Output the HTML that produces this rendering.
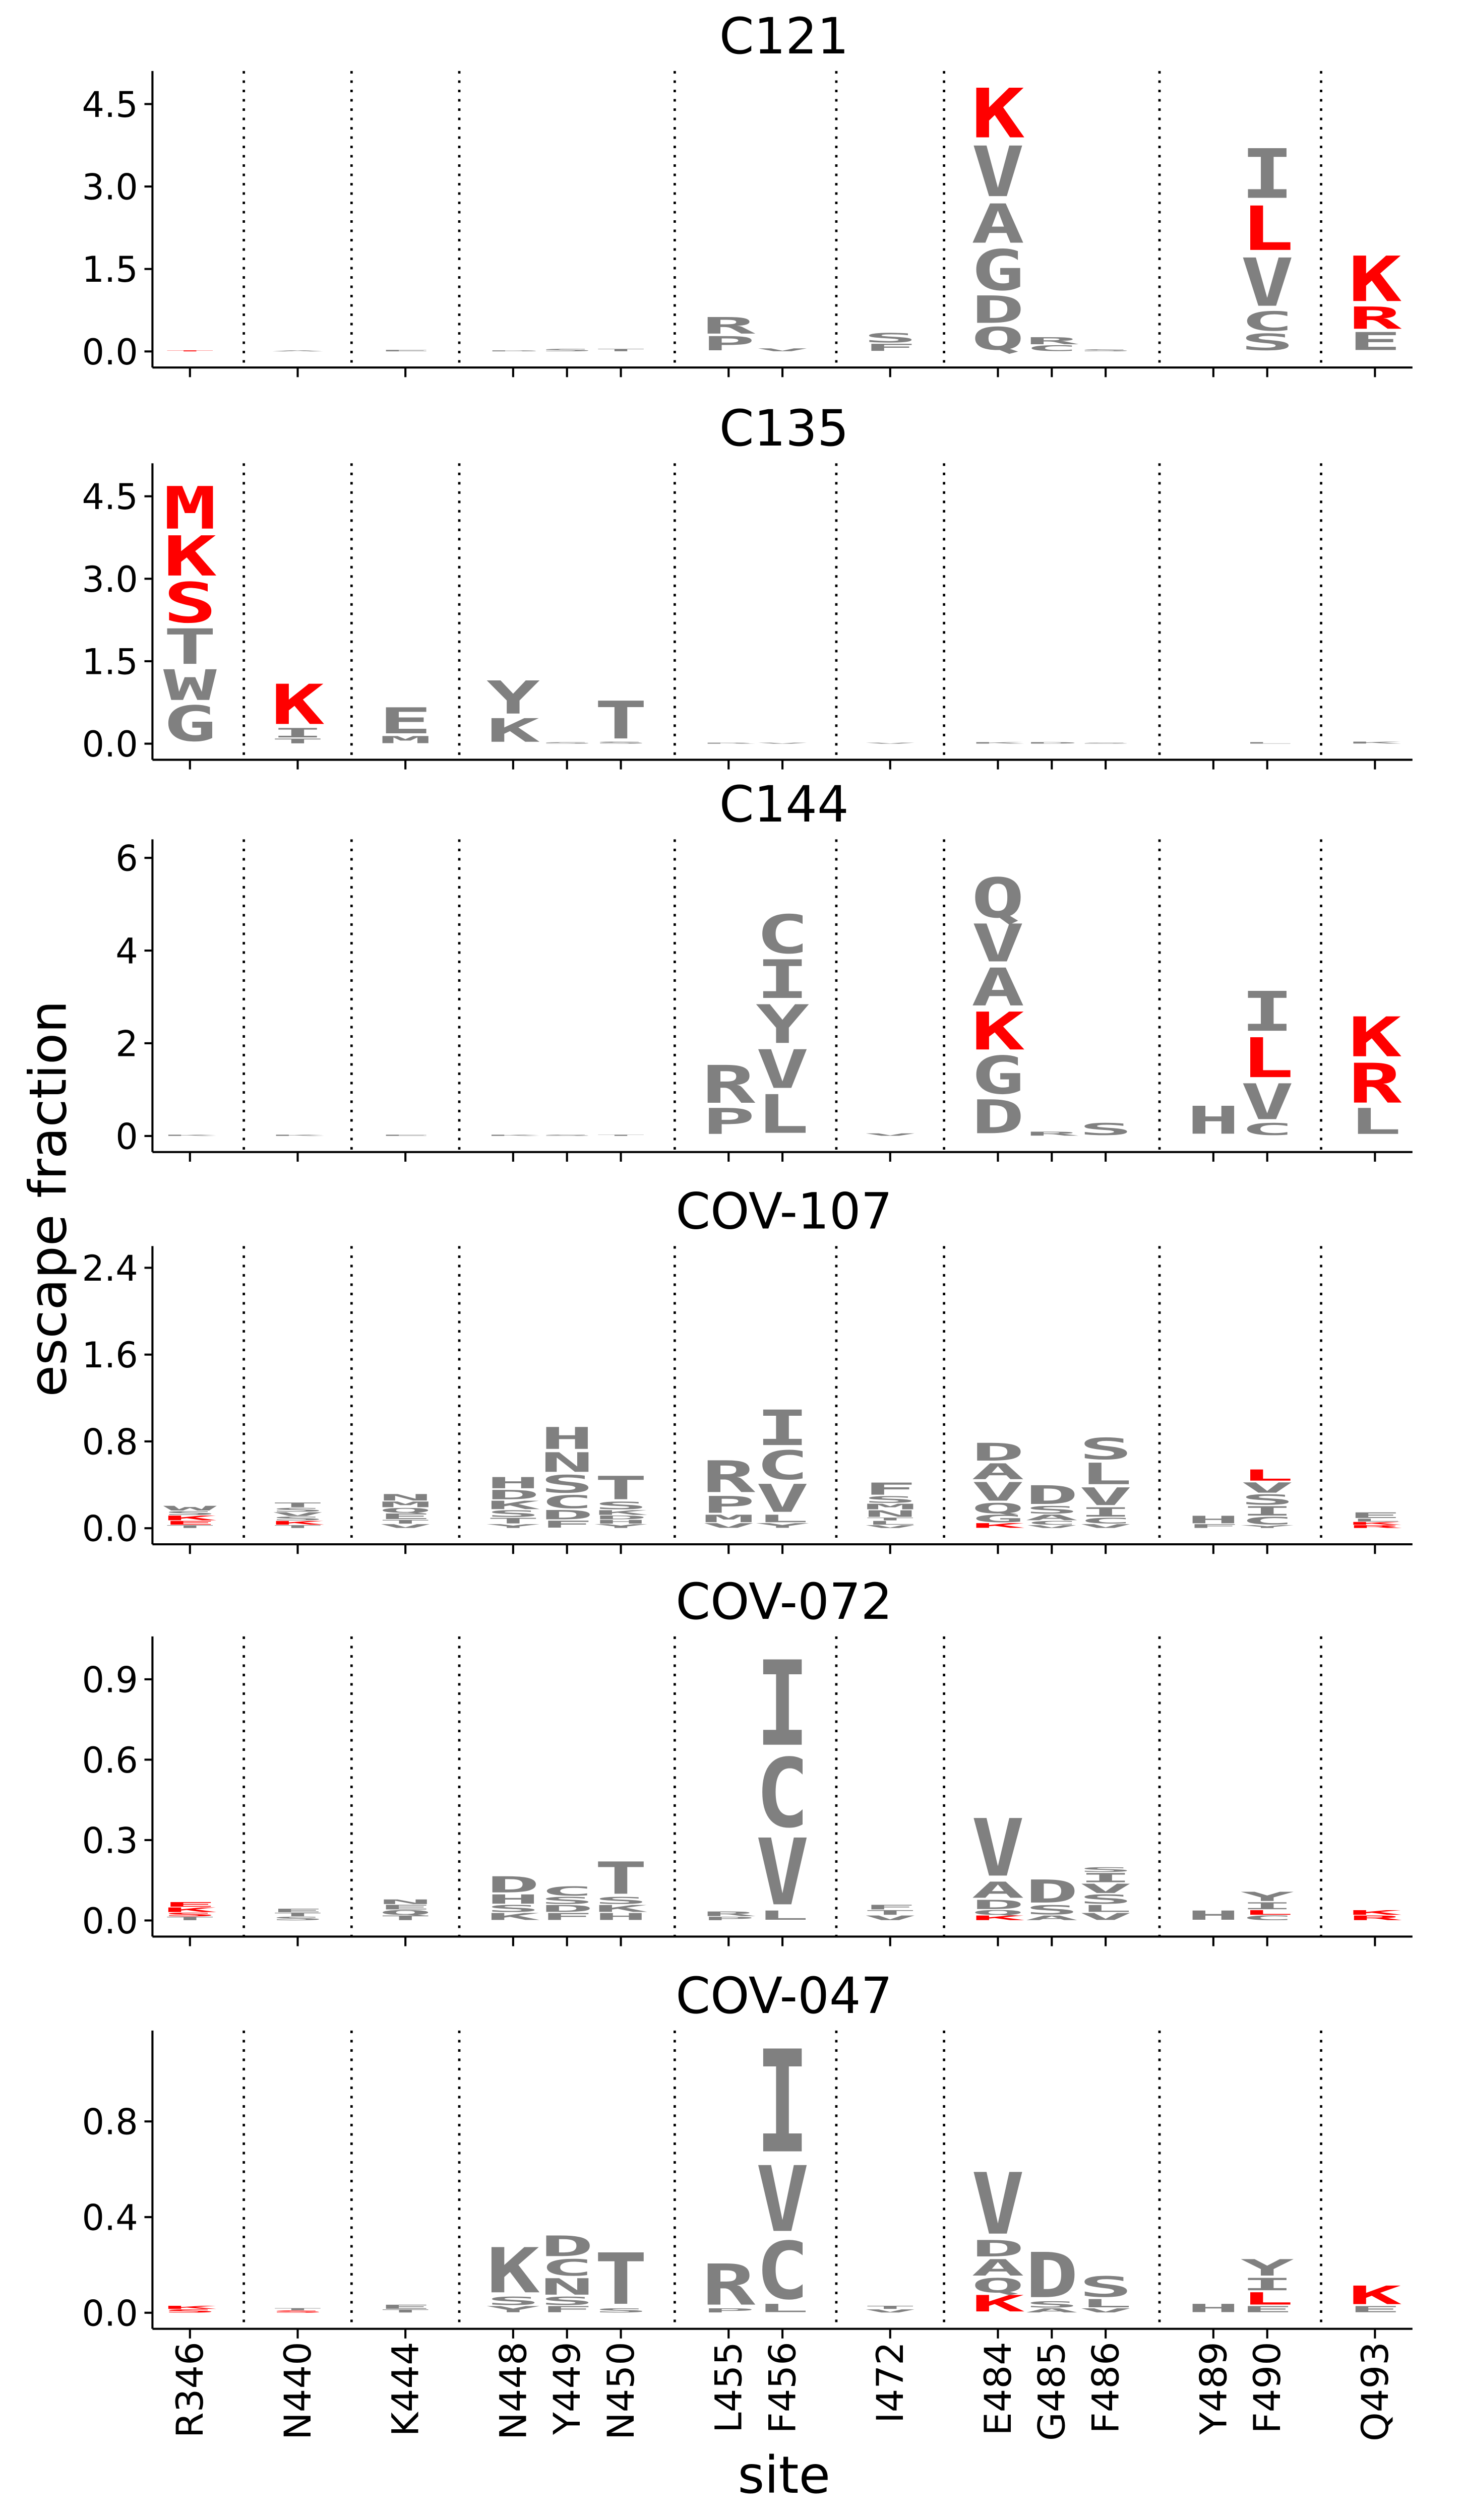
<!DOCTYPE html>
<html><head><meta charset="utf-8"><style>
html,body{margin:0;padding:0;background:#fff;width:100vw;height:100vh;overflow:hidden}
svg{display:block;position:fixed;left:0;top:0;width:100vw;height:100vh}
text{font-family:"DejaVu Sans","Liberation Sans",sans-serif}
</style></head><body>
<svg id="chart" xmlns="http://www.w3.org/2000/svg" viewBox="0 0 900 1556" preserveAspectRatio="none">
<rect width="900" height="1556" fill="#fff"/>
<g id="root" transform="matrix(0.9855,0,0,0.99265,1.08,0.6)"></g>
</svg>
<script>
const sites = ["R346","N440","K444","N448","Y449","N450","L455","F456","I472","E484","G485","F486","Y489","F490","Q493"];
const siteSlots = [0,2,4,6,7,8,10,11,13,15,16,17,19,20,22];
const dividerSlots = [1,3,5,9,12,14,18,21];
const panelNames = ["C121","C135","C144","COV-107","COV-072","COV-047"];
const panelTicks = [[0,1.5,3,4.5],[0,1.5,3,4.5],[0,2,4,6],[0,0.8,1.6,2.4],[0,0.3,0.6,0.9],[0,0.4,0.8]];
const panelTickLabels = [["0.0","1.5","3.0","4.5"],["0.0","1.5","3.0","4.5"],["0","2","4","6"],["0.0","0.8","1.6","2.4"],["0.0","0.3","0.6","0.9"],["0.0","0.4","0.8"]];
const panelMax = [5.1,5.1,6.4,2.6,1.06,1.18];
// stacks: per panel, per site: [letter, value, isRed] bottom→top
const C121 = {
 R346:[["T",0.02,1]], N440:[["A",0.02,0]], K444:[["E",0.03,0]], N448:[["D",0.02,0]], Y449:[["S",0.05,0]], N450:[["T",0.05,0]],
 L455:[["P",0.3,0],["R",0.35,0]], F456:[["V",0.06,0]], I472:[["F",0.15,0],["S",0.2,0]],
 E484:[["Q",0.48,0],["D",0.58,0],["G",0.86,0],["A",0.83,0],["V",1.07,0],["K",1.05,1]],
 G485:[["C",0.12,0],["R",0.15,0]], F486:[["S",0.04,0]], Y489:[], F490:[["S",0.35,0],["C",0.41,0],["V",1.02,0],["L",0.94,1],["I",1.05,0]],
 Q493:[["E",0.38,0],["R",0.47,1],["K",0.96,1]]};
const C135 = {
 R346:[["G",0.75,0],["W",0.65,0],["T",0.75,0],["S",0.85,1],["K",0.85,1],["M",0.9,1]],
 N440:[["T",0.1,0],["I",0.2,0],["K",0.85,1]], K444:[["M",0.15,0],["E",0.55,0]],
 N448:[["K",0.5,0],["Y",0.7,0]], Y449:[["S",0.03,0]], N450:[["S",0.04,0],["T",0.8,0]],
 L455:[["R",0.02,0]], F456:[["V",0.02,0]], I472:[["V",0.02,0]], E484:[["K",0.03,0]], G485:[["D",0.03,0]], F486:[["S",0.02,0]],
 Y489:[], F490:[["L",0.03,0]], Q493:[["K",0.04,0]]};
const C144 = {
 R346:[["K",0.03,0]], N440:[["K",0.03,0]], K444:[["E",0.03,0]], N448:[["K",0.03,0]], Y449:[["S",0.03,0]], N450:[["T",0.03,0]],
 L455:[["P",0.65,0],["R",0.95,0]], F456:[["L",0.97,0],["V",0.97,0],["Y",0.97,0],["I",0.97,0],["C",0.97,0]],
 I472:[["V",0.06,0]], E484:[["D",0.85,0],["G",0.95,0],["K",0.95,1],["A",0.95,0],["V",0.95,0],["Q",1.0,0]],
 G485:[["R",0.1,0]], F486:[["S",0.3,0]], Y489:[["H",0.7,0]], F490:[["C",0.3,0],["V",0.9,0],["L",1.0,1],["I",1.0,0]],
 Q493:[["L",0.65,0],["R",1.0,1],["K",1.0,1]]};
const COV107 = {
 R346:[["T",0.03,0],["E",0.04,1],["K",0.05,1],["S",0.04,0],["W",0.05,0]],
 N440:[["T",0.03,0],["K",0.04,1],["S",0.04,0],["V",0.04,0],["S",0.04,0],["T",0.05,0]],
 K444:[["V",0.04,0],["T",0.04,0],["E",0.06,0],["Q",0.05,0],["M",0.06,0],["N",0.07,0]],
 N448:[["Y",0.04,0],["T",0.06,0],["S",0.07,0],["K",0.09,0],["D",0.1,0],["H",0.12,0]],
 Y449:[["F",0.075,0],["D",0.1,0],["C",0.14,0],["S",0.19,0],["N",0.21,0],["H",0.235,0]],
 N450:[["Y",0.04,0],["H",0.04,0],["D",0.04,0],["K",0.05,0],["S",0.08,0],["T",0.25,0]],
 L455:[["V",0.05,0],["M",0.08,0],["P",0.18,0],["R",0.34,0]],
 F456:[["Y",0.05,0],["L",0.08,0],["V",0.3,0],["C",0.31,0],["I",0.38,0]],
 I472:[["V",0.03,0],["L",0.04,0],["T",0.03,0],["N",0.07,0],["M",0.06,0],["S",0.07,0],["F",0.13,0]],
 E484:[["K",0.05,1],["G",0.08,0],["Q",0.11,0],["V",0.2,0],["A",0.17,0],["D",0.19,0]],
 G485:[["V",0.03,0],["C",0.04,0],["A",0.06,0],["S",0.08,0],["D",0.2,0]],
 F486:[["V",0.04,0],["C",0.06,0],["I",0.1,0],["V",0.19,0],["L",0.23,0],["S",0.23,0]],
 Y489:[["F",0.04,0],["H",0.08,0]],
 F490:[["Y",0.03,0],["C",0.08,0],["I",0.1,0],["S",0.11,0],["V",0.11,0],["L",0.12,1]],
 Q493:[["R",0.03,1],["K",0.03,1],["L",0.03,0],["E",0.06,0]]};
const COV072 = {
 R346:[["T",0.015,0],["S",0.015,1],["K",0.02,1],["E",0.02,1]], N440:[["S",0.015,0],["T",0.015,0],["E",0.015,0]],
 K444:[["T",0.02,0],["Q",0.02,0],["E",0.02,0],["N",0.02,0]],
 N448:[["K",0.03,0],["S",0.03,0],["H",0.04,0],["D",0.07,0]],
 Y449:[["F",0.03,0],["D",0.03,0],["S",0.03,0],["C",0.04,0]],
 N450:[["H",0.03,0],["K",0.03,0],["S",0.03,0],["T",0.14,0]],
 L455:[["P",0.015,0],["R",0.02,0]], F456:[["L",0.04,0],["V",0.29,0],["C",0.3,0],["I",0.37,0]],
 I472:[["V",0.02,0],["T",0.02,0],["F",0.02,0]],
 E484:[["K",0.02,1],["Q",0.02,0],["D",0.04,0],["A",0.07,0],["V",0.25,0]],
 G485:[["A",0.02,0],["S",0.04,0],["D",0.1,0]],
 F486:[["V",0.03,0],["L",0.03,0],["S",0.04,0],["V",0.04,0],["I",0.04,0],["S",0.02,0]],
 Y489:[["H",0.04,0]], F490:[["C",0.02,0],["L",0.02,1],["I",0.03,0],["Y",0.04,0]],
 Q493:[["R",0.02,1],["K",0.02,1]]};
const COV047 = {
 R346:[["S",0.015,1],["K",0.015,1]], N440:[["S",0.01,1],["T",0.01,0]], K444:[["T",0.015,0],["E",0.02,0]],
 N448:[["Y",0.03,0],["S",0.04,0],["K",0.22,0]],
 Y449:[["F",0.03,0],["S",0.04,0],["N",0.08,0],["C",0.08,0],["D",0.1,0]],
 N450:[["S",0.02,0],["T",0.25,0]],
 L455:[["P",0.02,0],["R",0.2,0]], F456:[["L",0.04,0],["C",0.28,0],["V",0.32,0],["I",0.5,0]],
 I472:[["V",0.015,0],["T",0.015,0]],
 E484:[["K",0.08,1],["Q",0.07,0],["A",0.08,0],["D",0.08,0],["V",0.3,0]],
 G485:[["A",0.02,0],["S",0.03,0],["D",0.22,0]],
 F486:[["V",0.02,0],["L",0.04,0],["S",0.1,0]],
 Y489:[["H",0.04,0]], F490:[["E",0.03,0],["L",0.06,1],["I",0.06,0],["Y",0.08,0]],
 Q493:[["E",0.03,0],["K",0.09,1]]};
const panelData = [C121,C135,C144,COV107,COV072,COV047];

const NS="http://www.w3.org/2000/svg";
const root=document.getElementById('root');
const X0=117.4, SLOT=33.6, AX_L=94, AX_R=880;
const PANEL_ZERO=[218,462,706,950,1194,1438];
const PANEL_PX=[34.2,34.2,28.83,67.5,166.7,148.75];
function sx(slot){return X0+SLOT*slot;}
function mk(tag,attrs,parent){const e=document.createElementNS(NS,tag);for(const k in attrs)e.setAttribute(k,attrs[k]);(parent||root).appendChild(e);return e;}

panelNames.forEach((name,p)=>{
  const zero=PANEL_ZERO[p], k=PANEL_PX[p];
  const yv=v=>zero-v*k;
  const g=mk('g',{});
  
  
  const top=yv(panelMax[p]), bot=zero+10;
  const t=mk('text',{x:488,y:top-11,'font-size':31,'text-anchor':'middle'},g);
  t.textContent=name;
  
  
  dividerSlots.forEach(s=>{
    const l=mk('line',{x1:sx(s),x2:sx(s),y1:top,y2:bot,stroke:'#000','stroke-width':1.5,'stroke-dasharray':'1.6,4.2'},g);
    
    
  });
  const ya=mk('line',{x1:AX_L,x2:AX_L,y1:top,y2:bot,stroke:'#000','stroke-width':1.3},g);
  
  
  const xa=mk('line',{x1:AX_L,x2:AX_R,y1:bot,y2:bot,stroke:'#000','stroke-width':1.3},g);
  
  
  panelTicks[p].forEach((v,i)=>{
    mk('line',{x1:AX_L-5,x2:AX_L,y1:yv(v),y2:yv(v),stroke:'#000','stroke-width':1.3},g);
    const tl=mk('text',{x:AX_L-9,y:yv(v)+8,'font-size':22,'text-anchor':'end'},g);
    tl.textContent=panelTickLabels[p][i];
    
    
  });
  siteSlots.forEach((s,i)=>{
    mk('line',{x1:sx(s),x2:sx(s),y1:bot,y2:bot+6,stroke:'#000','stroke-width':1.3},g);
    const stack=panelData[p][sites[i]]||[];
    let cum=0;
    stack.forEach(([ch,val,red])=>{
      const y0=yv(cum), y1=yv(cum+val); cum+=val;
      const h=y0-y1; if(h<=0.05) return;
      const glyphH=h*0.86;
      const tx=mk('text',{'font-size':100,'font-weight':'bold','text-anchor':'middle',x:0,y:0,fill:red?'#ff0000':'#808080',style:'font-family:"DejaVu Sans Mono","Liberation Mono",monospace'},g);
      tx.textContent=ch;
      
      
      const w=60.2*0.9;
      const scx=30/w, scy=glyphH/72.9;
      tx.setAttribute('transform',`translate(${sx(s)},${y0-h*0.07}) scale(${scx},${scy})`);
    });
  });
});
siteSlots.forEach((s,i)=>{
  const t=mk('text',{'font-size':23,'text-anchor':'end',transform:`translate(${sx(s)+8},1456) rotate(-90)`});
  t.textContent=sites[i];
  
  
});
const xt=mk('text',{x:488,y:1550,'font-size':32,'text-anchor':'middle'});
xt.textContent='site';


const yt=mk('text',{'font-size':32,'text-anchor':'middle',transform:'translate(40,745) rotate(-90)'});
yt.textContent='escape fraction';


</script>
</body></html>
